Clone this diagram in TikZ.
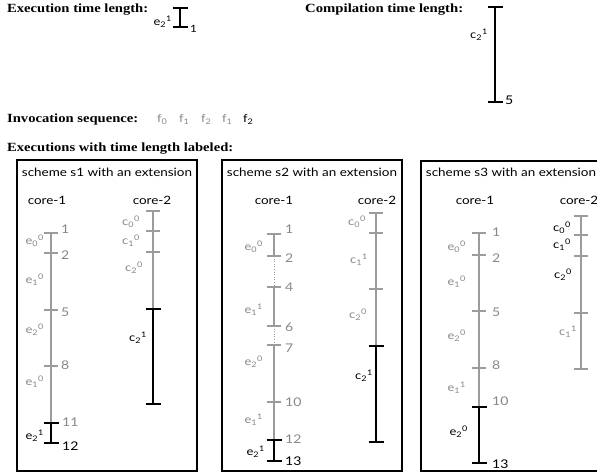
\documentclass[tikz,border=0pt]{standalone}
\usepackage{graphicx}
\usepackage{fontspec}
\setmainfont{Liberation Serif}
\newfontfamily\gs{Lato}[FakeStretch=1.17]
\usetikzlibrary{arrows.meta}
\definecolor{gl}{RGB}{155,155,155}
\definecolor{gt}{RGB}{135,135,135}
\newcommand\lbl[3]{#1\textsubscript{#2}\textsuperscript{#3}}
\newcommand\hdw[2]{\resizebox{#1pt}{\height}{#2}}
\newcommand\gcaps[1]{\foreach \c in {#1} {\draw[gcap] ([xshift=-7pt]\c) -- ([xshift=7pt]\c);}}
\newcommand\bcaps[1]{\foreach \c in {#1} {\draw[bcap] ([xshift=-7.5pt]\c) -- ([xshift=7.5pt]\c);}}
\tikzset{
  hd/.style={font=\fontsize{12.5}{14}\selectfont\bfseries, anchor=base west, inner sep=0},
  tx/.style={font=\gs\fontsize{11.5}{13}\selectfont, inner sep=0, anchor=base},
  fx/.style={font=\gs\fontsize{11}{13}\selectfont, inner sep=0, anchor=base west},
  num/.style={font=\gs\fontsize{12}{14}\selectfont, anchor=west, inner sep=0, text=gt},
  ev/.style={font=\gs\fontsize{11}{13}\selectfont, anchor=east, inner sep=0, text=gt},
  gseg/.style={draw=gl, line width=1.8pt},
  bseg/.style={draw=black, line width=2.6pt},
  gcap/.style={draw=gl, line width=2.8pt},
  bcap/.style={draw=black, line width=2.8pt},
  dseg/.style={draw=gl, line width=0.6pt, dotted},
  box/.style={draw=black, line width=1.3pt}
}
\begin{document}
\begin{tikzpicture}[x=1pt,y=-1pt]
\useasboundingbox (0,0) rectangle (597,473);
\clip (0,0) rectangle (597,473);

% ---------- top part ----------
\node[hd] (h1) at (7,13) {\hdw{141}{Execution time length:}};
\node[hd] (h2) at (305,13) {\hdw{158}{Compilation time length:}};
\node[hd] (h3) at (7,123) {\hdw{131}{Invocation sequence:}};
\node[hd] (h4) at (7,152) {\hdw{226}{Executions with time length labeled:}};

\coordinate (xa) at (180,8);
\coordinate (xb) at (180,27);
\draw[bseg] (xa) -- (xb);
\bcaps{xa,xb}
\node[ev, text=black] (xl) at (172,22) {\lbl{e}{2}{1}};
\node[num, text=black, font=\gs\fontsize{10}{12}\selectfont] (xn) at (190,29) {1};

\coordinate (ca) at (495,7);
\coordinate (cb) at (495,102);
\draw[bseg] (ca) -- (cb);
\bcaps{ca,cb}
\node[ev, text=black] (cl) at (488,35) {\lbl{c}{2}{1}};
\node[num, text=black] (cn) at (505,100) {5};

\node[fx, text=gt] (f1) at (157,123) {f\textsubscript{0}};
\node[fx, text=gt] (f2) at (179,123) {f\textsubscript{1}};
\node[fx, text=gt] (f3) at (201,123) {f\textsubscript{2}};
\node[fx, text=gt] (f4) at (222,123) {f\textsubscript{1}};
\node[fx, text=black] (f5) at (243,123) {f\textsubscript{2}};

% ---------- boxes ----------
\draw[box] (17,160) rectangle (197,471);
\draw[box] (222,160) rectangle (402,471);
\draw[box] (421,161) rectangle (605,471);

\node[tx] (s1) at (107,177) {scheme s1 with an extension};
\node[tx] (s2) at (312,177) {scheme s2 with an extension};
\node[tx] (s3) at (511,177) {scheme s3 with an extension};

\node[tx] (k11) at (47,205) {core-1};
\node[tx] (k12) at (152,205) {core-2};
\node[tx] (k21) at (274,205) {core-1};
\node[tx] (k22) at (377,205) {core-2};
\node[tx] (k31) at (475,205) {core-1};
\node[tx] (k32) at (579,205) {core-2};

% ---------- scheme s1, core-1 ----------
\coordinate (a1) at (51,233);
\coordinate (a2) at (51,253);
\coordinate (a5) at (51,310);
\coordinate (a8) at (51,366);
\coordinate (a11) at (51,423);
\coordinate (a12) at (51,443);
\draw[gseg] (a1) -- (a2);
\draw[gseg] (a2) -- (a5);
\draw[gseg] (a5) -- (a8);
\draw[gseg] (a8) -- (a11);
\gcaps{a1,a2,a5,a8}
\draw[bseg] (a11) -- (a12);
\bcaps{a11,a12}
\node[num] (an1) at (61,229) {1};
\node[num] (an2) at (61,255) {2};
\node[num] (an5) at (61,312) {5};
\node[num] (an8) at (61,365) {8};
\node[num] (an11) at (62,422) {11};
\node[num, text=black] (an12) at (62,446) {12};
\node[ev] (al1) at (44,241) {\lbl{e}{0}{0}};
\node[ev] (al2) at (44,280) {\lbl{e}{1}{0}};
\node[ev] (al3) at (44,330) {\lbl{e}{2}{0}};
\node[ev] (al4) at (44,382) {\lbl{e}{1}{0}};
\node[ev, text=black] (al5) at (44,436) {\lbl{e}{2}{1}};

% ---------- scheme s1, core-2 ----------
\coordinate (b0) at (153,211);
\coordinate (b1) at (153,231);
\coordinate (b2) at (153,252);
\coordinate (b5) at (153,309);
\coordinate (b10) at (153,404);
\draw[gseg] (b0) -- (b1);
\draw[gseg] (b1) -- (b2);
\draw[gseg] (b2) -- (b5);
\gcaps{b0,b1,b2}
\draw[bseg] (b5) -- (b10);
\bcaps{b5,b10}
\node[ev] (bl1) at (140,222) {\lbl{c}{0}{0}};
\node[ev] (bl2) at (140,241) {\lbl{c}{1}{0}};
\node[ev] (bl3) at (143,268) {\lbl{c}{2}{0}};
\node[ev, text=black] (bl4) at (147,338) {\lbl{c}{2}{1}};

% ---------- scheme s2, core-1 ----------
\coordinate (c1) at (274,234);
\coordinate (c2) at (274,256);
\coordinate (c4) at (274,287);
\coordinate (c6) at (274,326);
\coordinate (c7) at (274,345);
\coordinate (c10) at (274,402);
\coordinate (c12) at (274,440);
\coordinate (c13) at (274,461);
\draw[gseg] (c1) -- (c2);
\draw[dseg] (c2) -- (c4);
\draw[gseg] (c4) -- (c6);
\draw[dseg] (c6) -- (c7);
\draw[gseg] (c7) -- (c10);
\draw[gseg] (c10) -- (c12);
\gcaps{c1,c2,c4,c6,c7,c10}
\draw[bseg] (c12) -- (c13);
\bcaps{c12,c13}
\node[num] (cn1) at (285,229) {1};
\node[num] (cn2) at (285,258) {2};
\node[num] (cn4) at (285,287) {4};
\node[num] (cn6) at (285,327) {6};
\node[num] (cn7) at (285,348) {7};
\node[num] (cn10) at (285,402) {10};
\node[num] (cn12) at (285,439) {12};
\node[num, text=black] (cn13) at (285,461) {13};
\node[ev] (cl1) at (263,247) {\lbl{e}{0}{0}};
\node[ev] (cl2) at (263,310) {\lbl{e}{1}{1}};
\node[ev] (cl3) at (263,362) {\lbl{e}{2}{0}};
\node[ev] (cl4) at (263,420) {\lbl{e}{1}{1}};
\node[ev, text=black] (cl5) at (265,452) {\lbl{e}{2}{1}};

% ---------- scheme s2, core-2 ----------
\coordinate (d0) at (376,213);
\coordinate (d1) at (376,233);
\coordinate (d4) at (376,289);
\coordinate (d7) at (376,346);
\coordinate (d12) at (376,442);
\draw[gseg] (d0) -- (d1);
\draw[gseg] (d1) -- (d4);
\draw[gseg] (d4) -- (d7);
\gcaps{d0,d1,d4}
\draw[bseg] (d7) -- (d12);
\bcaps{d7,d12}
\node[ev] (dl1) at (366,222) {\lbl{c}{0}{0}};
\node[ev] (dl2) at (368,260) {\lbl{c}{1}{1}};
\node[ev] (dl3) at (367,315) {\lbl{c}{2}{0}};
\node[ev, text=black] (dl4) at (373,376) {\lbl{c}{2}{1}};

% ---------- scheme s3, core-1 ----------
\coordinate (e1) at (479,233);
\coordinate (e2) at (479,255);
\coordinate (e5) at (479,311);
\coordinate (e8) at (479,368);
\coordinate (e10) at (479,407);
\coordinate (e13) at (479,463);
\draw[gseg] (e1) -- (e2);
\draw[gseg] (e2) -- (e5);
\draw[gseg] (e5) -- (e8);
\draw[gseg] (e8) -- (e10);
\gcaps{e1,e2,e5,e8}
\draw[bseg] (e10) -- (e13);
\bcaps{e10,e13}
\node[num] (en1) at (492,232) {1};
\node[num] (en2) at (492,258) {2};
\node[num] (en5) at (492,312) {5};
\node[num] (en8) at (492,365) {8};
\node[num] (en10) at (492,401) {10};
\node[num, text=black] (en13) at (492,464) {13};
\node[ev] (el1) at (466,247) {\lbl{e}{0}{0}};
\node[ev] (el2) at (466,282) {\lbl{e}{1}{0}};
\node[ev] (el3) at (466,336) {\lbl{e}{2}{0}};
\node[ev] (el4) at (466,388) {\lbl{e}{1}{1}};
\node[ev, text=black] (el5) at (468,432) {\lbl{e}{2}{0}};

% ---------- scheme s3, core-2 ----------
\coordinate (g0) at (581,216);
\coordinate (g1) at (581,235);
\coordinate (g2) at (581,256);
\coordinate (g5) at (581,313);
\coordinate (g8) at (581,369);
\draw[gseg] (g0) -- (g1);
\draw[gseg] (g1) -- (g2);
\draw[gseg] (g2) -- (g5);
\draw[gseg] (g5) -- (g8);
\gcaps{g0,g1,g2,g5,g8}
\node[ev, text=black] (gl1) at (571,228) {\lbl{c}{0}{0}};
\node[ev, text=black] (gl2) at (571,245) {\lbl{c}{1}{0}};
\node[ev, text=black] (gl3) at (572,275) {\lbl{c}{2}{0}};
\node[ev] (gl4) at (577,332) {\lbl{c}{1}{1}};
\end{tikzpicture}
\end{document}
